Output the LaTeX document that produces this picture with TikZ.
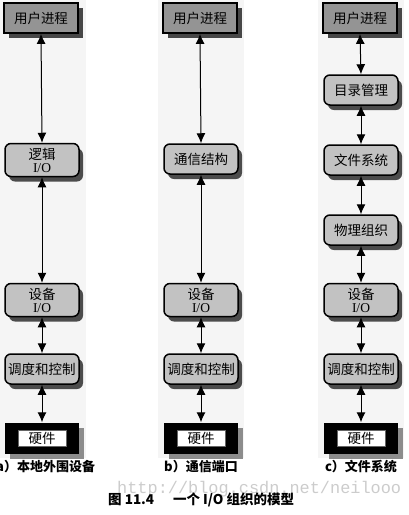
\documentclass[tikz,border=0pt]{standalone}
\usepackage{fontspec}
\setmainfont{Liberation Serif}
\newfontfamily\cjk{Noto Sans CJK SC}
\newfontfamily\wmfont{Liberation Mono}
\usetikzlibrary{shadows,arrows.meta}
\begin{document}
\begin{tikzpicture}[x=1pt,y=-1pt,
  base/.style={draw=black, text=black, align=center, inner sep=0pt, minimum width=74pt,
    font=\fontsize{13.5}{14}\selectfont},
  userbox/.style={base, line width=1.8pt, fill=black!42, minimum height=30pt,
    drop shadow={shadow xshift=5pt, shadow yshift=-5pt, fill=black!72, opacity=1}},
  layerbox/.style={base, line width=1.5pt, rounded corners=6pt, fill=black!24, minimum height=30pt,
    drop shadow={shadow xshift=4pt, shadow yshift=-5pt, fill=black!70, opacity=1}},
  tallbox/.style={layerbox, minimum height=33pt},
  hwouter/.style={fill=black, minimum width=74pt, minimum height=31pt, inner sep=0pt,
    drop shadow={shadow xshift=5pt, shadow yshift=-5pt, fill=black!45, opacity=1}},
  hwinner/.style={draw=black!60, line width=0.4pt, fill=white, minimum width=48pt, minimum height=16pt,
    inner sep=0pt, font=\cjk\fontsize{13.5}{14}\selectfont},
  link/.style={{Latex[length=10pt,width=9pt]}-{Latex[length=10pt,width=9pt]}, line width=1pt},
  sublabel/.style={font=\cjk\bfseries\fontsize{13}{15}\selectfont, inner sep=0pt}
]
\useasboundingbox (0,0) rectangle (408,515);
% faint scanned background strips
\fill[black!4] (0,0) rectangle (86,458);
\fill[black!4] (158,0) rectangle (244,458);
\fill[black!4] (318,0) rectangle (404,458);

% column a
\node[userbox] (au) at (41,18) {\cjk 用户进程};
\node[tallbox] (al) at (42,160) {{\cjk 逻辑}\\[-1pt]I/O};
\node[tallbox] (ad) at (42,300) {{\cjk 设备}\\[-1pt]I/O};
\node[layerbox] (ac) at (42,369) {\cjk 调度和控制};
\node[hwouter] (ah) at (42,438) {};
\node[hwinner] (ahi) at (ah.center) {硬件};
\node[sublabel, anchor=west] (la) at (-4,467) {a）本地外围设备};
\draw[link] (au.south) -- (al.north);
\draw[link] (al.south) -- (ad.north);
\draw[link] (ad.south) -- (ac.north);
\draw[link] (ac.south) -- (ah.north);

% column b
\node[userbox] (bu) at (200,18) {\cjk 用户进程};
\node[layerbox] (bl) at (201,159) {\cjk 通信结构};
\node[tallbox] (bd) at (201,300) {{\cjk 设备}\\[-1pt]I/O};
\node[layerbox] (bc) at (201,369) {\cjk 调度和控制};
\node[hwouter] (bh) at (201,438) {};
\node[hwinner] (bhi) at (bh.center) {硬件};
\node[sublabel] (lb) at (201,467) {b）通信端口};
\draw[link] (bu.south) -- (bl.north);
\draw[link] (bl.south) -- (bd.north);
\draw[link] (bd.south) -- (bc.north);
\draw[link] (bc.south) -- (bh.north);

% column c
\node[userbox] (cu) at (360,18) {\cjk 用户进程};
\node[layerbox] (cm) at (361,90) {\cjk 目录管理};
\node[layerbox] (cf) at (361,160) {\cjk 文件系统};
\node[layerbox] (cp) at (361,230) {\cjk 物理组织};
\node[tallbox] (cd) at (361,300) {{\cjk 设备}\\[-1pt]I/O};
\node[layerbox] (cc) at (361,369) {\cjk 调度和控制};
\node[hwouter] (ch) at (361,438) {};
\node[hwinner] (chi) at (ch.center) {硬件};
\node[sublabel] (lc) at (361,467) {c）文件系统};
\draw[link] (cu.south) -- (cm.north);
\draw[link] (cm.south) -- (cf.north);
\draw[link] (cf.south) -- (cp.north);
\draw[link] (cp.south) -- (cd.north);
\draw[link] (cd.south) -- (cc.north);
\draw[link] (cc.south) -- (ch.north);

% watermark and caption
\node[font=\wmfont\fontsize{16.9}{17}\selectfont, text=black!20, anchor=west, inner sep=0pt] (wm) at (117,489) {http://blog.csdn.net/neilooo};
\node[font=\cjk\bfseries\fontsize{13.5}{15}\selectfont, anchor=west, inner sep=0pt] (cap) at (108,500) {图 11.4\hspace{1.4em}一个 I/O 组织的模型};
\end{tikzpicture}
\end{document}
